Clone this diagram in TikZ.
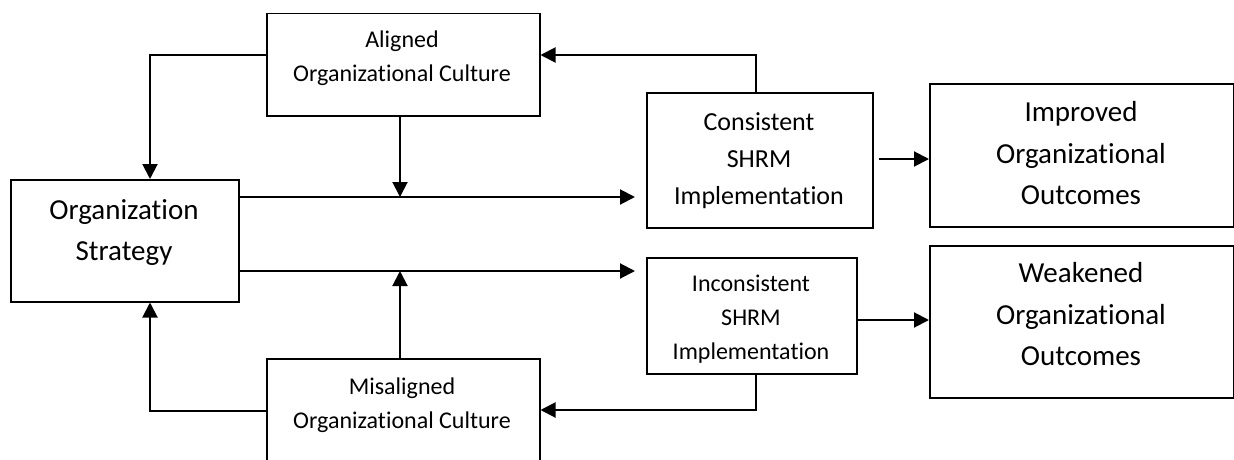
\documentclass[tikz,border=0pt]{standalone}
\usepackage{fontspec}
\setmainfont{Carlito}[Ligatures=NoCommon]
\usetikzlibrary{arrows.meta}
\begin{document}
\begin{tikzpicture}[x=1pt,y=-1pt,
  box/.style={draw,line width=1.5pt,rectangle,inner sep=0pt,anchor=north west},
  txt/.style={align=center,inner sep=0pt},
  arr/.style={line width=2pt,-{Triangle[length=15pt,width=15pt]}},
  fsS/.style={font={\fontsize{24}{34}\selectfont}},
  fsM/.style={font={\fontsize{26}{37}\selectfont}},
  fsL/.style={font={\fontsize{29}{41.5}\selectfont}}]
\useasboundingbox (0,0) rectangle (1234,460);
\clip (0,0) rectangle (1234,460);
% boxes
\node[box,minimum width=273pt,minimum height=102pt] (al) at (266,13) {};
\node[box,minimum width=228pt,minimum height=122pt] (st) at (10,179) {};
\node[box,minimum width=273pt,minimum height=104pt] (mi) at (266,358) {};
\node[box,minimum width=226pt,minimum height=135pt] (cs) at (646,92) {};
\node[box,minimum width=210pt,minimum height=116pt] (ic) at (646,257) {};
\node[box,minimum width=304pt,minimum height=143pt] (im) at (929,83) {};
\node[box,minimum width=304pt,minimum height=152pt] (wk) at (929,245) {};
% texts
\node[txt,fsS] (alt) at (402,58) {Aligned\\Organizational Culture};
\node[txt,fsL] (stt) at (124,232.5) {Organization\\Strategy};
\node[txt,fsS] (mit) at (402,405) {Misaligned\\Organizational Culture};
\node[txt,fsM] (cst) at (759,161) {Consistent\\SHRM\\Implementation};
\node[txt,fsS] (ict) at (751,319) {Inconsistent\\SHRM\\Implementation};
\node[txt,fsL] (imt) at (1081,153.5) {Improved\\Organizational\\Outcomes};
\node[txt,fsL] (wkt) at (1081,314.5) {Weakened\\Organizational\\Outcomes};
% coordinates
\coordinate (p1) at (150,55);
\coordinate (p2) at (400,197);
\coordinate (p4) at (400,271);
\coordinate (p5) at (150,411);
\coordinate (p6) at (756,55);
\coordinate (p7) at (756,410);
\coordinate (p8) at (0,159);
\coordinate (p9) at (0,320);
% connectors
\draw[arr] (al.west |- p1) -- (p1) -- (st.north -| p1);
\draw[arr] (al.south -| p2) -- (p2);
\draw[arr,shorten >=11pt] (st.east |- p2) -- (cs.west |- p2);
\draw[arr,shorten >=11pt] (st.east |- p4) -- (ic.west |- p4);
\draw[arr] (mi.north -| p4) -- (p4);
\draw[arr] (mi.west |- p5) -- (p5) -- (st.south -| p5);
\draw[arr] (cs.north -| p6) -- (p6) -- (al.east |- p6);
\draw[arr] (ic.south -| p7) -- (p7) -- (mi.east |- p7);
\draw[arr,shorten <=5pt] (cs.east |- p8) -- (im.west |- p8);
\draw[arr] (ic.east |- p9) -- (wk.west |- p9);
\end{tikzpicture}
\end{document}
